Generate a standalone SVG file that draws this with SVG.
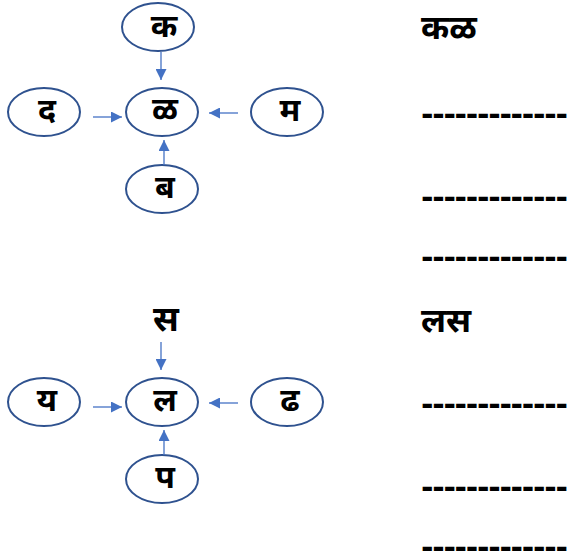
<svg xmlns="http://www.w3.org/2000/svg" width="569" height="558" viewBox="0 0 569 558">
<style>
.n ellipse{fill:#fff;stroke:#2F528F;stroke-width:2}
text{font-family:"Noto Sans","Noto Sans CJK SC",sans-serif;font-weight:bold;fill:#000}
.t{font-size:32px;text-anchor:middle}
.s{font-size:35px;text-anchor:middle}
.h{font-size:34px}
.d{font-family:"DejaVu Sans",sans-serif;font-size:30px;letter-spacing:-1.25px}
.c line{stroke:#4472C4;stroke-width:1.3;marker-end:url(#a)}
</style>
<defs>
<marker id="a" viewBox="0 0 10 10" refX="10" refY="5" markerWidth="11" markerHeight="11" markerUnits="userSpaceOnUse" orient="auto">
<path d="M0,0 L10,5 L0,10 z" fill="#4472C4"/>
</marker>
</defs>
<g id="n-ka" class="n"><ellipse cx="158" cy="27" rx="36" ry="24"/><text class="t" x="164" y="37">क</text></g>
<g id="n-lla" class="n"><ellipse cx="162" cy="112" rx="36" ry="24"/><text class="t" x="165" y="120">ळ</text></g>
<g id="n-da" class="n"><ellipse cx="44" cy="112" rx="36" ry="24"/><text class="t" x="47" y="121">द</text></g>
<g id="n-ma" class="n"><ellipse cx="287" cy="112" rx="36" ry="24"/><text class="t" x="290" y="121">म</text></g>
<g id="n-ba" class="n"><ellipse cx="162" cy="189" rx="36" ry="24"/><text class="t" x="165" y="198">ब</text></g>
<g id="n-sa"><text class="s" x="166" y="331">स</text></g>
<g id="n-la" class="n"><ellipse cx="162" cy="402" rx="36" ry="24"/><text class="t" x="165" y="411">ल</text></g>
<g id="n-ya" class="n"><ellipse cx="44" cy="402" rx="36" ry="24"/><text class="t" x="47" y="411">य</text></g>
<g id="n-dha" class="n"><ellipse cx="287" cy="402" rx="36" ry="24"/><text class="t" x="290" y="411">ढ</text></g>
<g id="n-pa" class="n"><ellipse cx="162" cy="479" rx="36" ry="24"/><text class="t" x="165" y="488">प</text></g>
<g id="connectors" class="c">
<line x1="161" y1="52" x2="161" y2="80"/>
<line x1="93" y1="117" x2="122" y2="117"/>
<line x1="238" y1="113" x2="209" y2="113"/>
<line x1="164" y1="165" x2="164" y2="140"/>
<line x1="161" y1="342" x2="161" y2="370"/>
<line x1="93" y1="407" x2="122" y2="407"/>
<line x1="238" y1="403" x2="209" y2="403"/>
<line x1="164" y1="455" x2="164" y2="430"/>
</g>
<g id="answers">
<text class="h" x="421" y="39">कळ</text>
<text class="d" x="421" y="125">-------------</text>
<text class="d" x="421" y="208">-------------</text>
<text class="d" x="421" y="268">-------------</text>
<text class="h" x="421" y="332">लस</text>
<text class="d" x="421" y="415">-------------</text>
<text class="d" x="421" y="498">-------------</text>
<text class="d" x="421" y="558">-------------</text>
</g>
</svg>
